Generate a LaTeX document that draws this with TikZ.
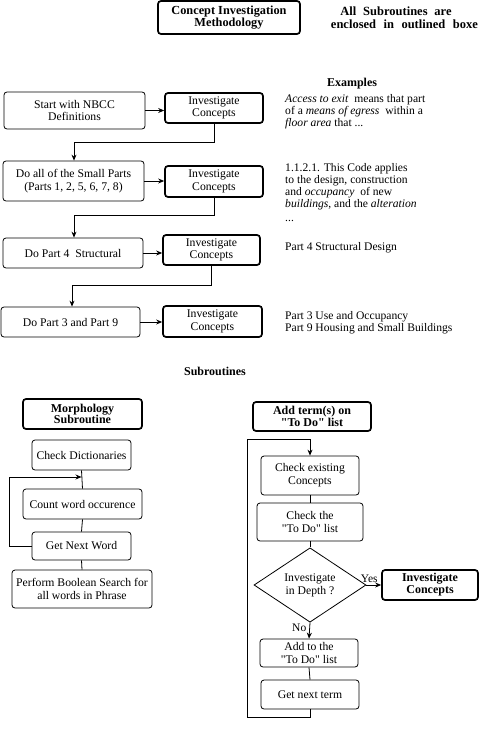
\documentclass[tikz,border=0pt]{standalone}
\usepackage{fontspec}
\setmainfont{Liberation Serif}
\usetikzlibrary{arrows.meta,shapes.geometric,calc}
\newcommand{\qq}{\textquotedbl}
\tikzset{
  box/.style={draw, rounded corners=3pt, line width=0.8pt, align=center, inner sep=1pt,
    font=\fontsize{11.7}{12.8}\selectfont},
  tbox/.style={draw, rounded corners=3pt, line width=1.7pt, align=center, inner sep=1pt,
    font=\fontsize{12}{11.8}\selectfont\bfseries},
  ibox/.style={draw, rounded corners=3pt, line width=1.7pt, align=center, inner sep=1pt,
    font=\fontsize{11.7}{12.5}\selectfont},
  conn/.style={line width=0.8pt},
  arr/.style={line width=0.8pt, -{Stealth[length=6pt,width=5pt]}},
  txt/.style={align=left, inner sep=0pt, font=\fontsize{11.6}{12}\selectfont},
  hdr/.style={inner sep=0pt, font=\fontsize{12}{13}\selectfont\bfseries}
}
\begin{document}
\begin{tikzpicture}[x=1pt,y=-1pt]
\useasboundingbox (0,0) rectangle (479,746);
% header
\node[tbox, font=\fontsize{12.3}{12}\selectfont\bfseries, minimum width=142pt, minimum height=33pt] (title) at (229,17.5) {Concept Investigation\\Methodology};
\node[hdr, font=\fontsize{12.5}{13}\selectfont\bfseries, anchor=center] (note1) at (396,11) {All\hspace{0.55em}Subroutines\hspace{0.55em}are};
\node[hdr, font=\fontsize{12.5}{13}\selectfont\bfseries, anchor=east] (note2) at (478,24) {enclosed\hspace{0.6em}in\hspace{0.6em}outlined\hspace{0.6em}boxe};
\node[hdr] (examples) at (352,84) {Examples};
% main flow
\node[box, minimum width=141pt, minimum height=37pt] (start) at (74.5,110.5) {Start with NBCC\\Definitions};
\node[ibox, minimum width=98pt, minimum height=30pt] (inv1) at (214,108) {Investigate\\Concepts};
\node[box, minimum width=141pt, minimum height=40pt] (small) at (73.5,181) {Do all of the Small Parts\\(Parts 1, 2, 5, 6, 7, 8)};
\node[ibox, minimum width=98pt, minimum height=31pt] (inv2) at (214,181.5) {Investigate\\Concepts};
\node[box, minimum width=140pt, minimum height=30pt] (struct) at (73,253) {Do Part 4\ \ Structural};
\node[ibox, minimum width=97pt, minimum height=30pt] (inv3) at (211.5,250) {Investigate\\Concepts};
\node[box, minimum width=139pt, minimum height=30pt] (p39) at (70.5,322) {Do Part 3 and Part 9};
\node[ibox, minimum width=99pt, minimum height=31pt] (inv4) at (212.5,321.5) {Investigate\\Concepts};

\draw[arr] (start.east) -- (start.east -| inv1.west);
\draw[arr] (small.east) -- (small.east -| inv2.west);
\draw[arr] (struct.east) -- (struct.east -| inv3.west);
\draw[arr] (p39.east) -- (p39.east -| inv4.west);

\coordinate (c1) at (74,142);
\coordinate (c2) at (74,215);
\coordinate (c3) at (72,285);
\draw[arr] (inv1.south) |- (c1) -- (c1 |- small.north);
\draw[arr] (inv2.south) |- (c2) -- (c2 |- struct.north);
\draw[arr] (inv3.south) |- (c3) -- (c3 |- p39.north);

% examples
\node[txt, anchor=north west] (ex1) at (285,94) {\textit{Access to exit}\ \ means that part\\of a \textit{means of egress}\ \ within a\\\textit{floor area} that ...};
\node[txt, anchor=north west] (ex2) at (285,163) {1.1.2.1. This Code applies\\to the design, construction\\and \textit{occupancy}\ \ of new\\\textit{buildings}, and the \textit{alteration}\\[2pt]...};
\node[txt, anchor=west] (ex3) at (285,248) {Part 4 Structural Design};
\node[txt, anchor=north west] (ex4) at (285,311) {Part 3 Use and Occupancy\\Part 9 Housing and Small Buildings};

\node[hdr] (subr) at (215,371) {Subroutines};

% morphology subroutine
\node[tbox, minimum width=119pt, minimum height=30pt] (morph) at (82.5,414) {Morphology\\Subroutine};
\node[box, minimum width=99pt, minimum height=30pt] (dict) at (81.5,455) {Check Dictionaries};
\node[box, minimum width=119pt, minimum height=30pt] (count) at (82.5,504) {Count word occurence};
\node[box, minimum width=99pt, minimum height=28pt] (getword) at (81.5,546) {Get Next Word};
\node[box, minimum width=140pt, minimum height=38pt] (bool) at (82,589) {Perform Boolean Search for\\all words in Phrase};
\draw[conn] (dict.south) -- (count.north);
\draw[conn] (count.south) -- (getword.north);
\draw[conn] (getword.south) -- (bool.north);
\coordinate (m1) at (9,546);
\coordinate (m2) at (9,477);
\coordinate (m3) at (81.5,477);
\draw[arr] (getword.west) -- (m1) -- (m2) -- (m3);

% add term subroutine
\node[tbox, minimum width=118pt, minimum height=29pt] (addterm) at (312,416.5) {Add term(s) on\\\qq To Do\qq{} list};
\node[box, minimum width=98pt, minimum height=39pt] (checkex) at (310,475.5) {Check existing\\Concepts};
\node[box, minimum width=106pt, minimum height=38pt] (checktodo) at (310,522) {Check the\\\qq To Do\qq{} list};
\node[draw, diamond, line width=0.8pt, minimum width=112pt, minimum height=72pt, inner sep=0pt, align=center,
  font=\fontsize{11.7}{12.8}\selectfont] (depth) at (310,585) {Investigate\\in Depth ?};
\node[tbox, minimum width=96pt, minimum height=30pt] (invc) at (430,585) {Investigate\\Concepts};
\node[box, minimum width=98pt, minimum height=28pt] (addtodo) at (309,653) {Add to the\\\qq To Do\qq{} list};
\node[box, minimum width=98pt, minimum height=29pt] (getterm) at (310,694.5) {Get next term};
\draw[conn] (checkex.south) -- (checktodo.north);
\draw[conn] (checktodo.south) -- (depth.north);
\draw[arr] (depth.east) -- node[above, font=\fontsize{11.5}{12}\selectfont, inner sep=2pt, pos=0.2] (yes) {Yes} (invc.west);
\draw[arr] (depth.south) -- node[left, font=\fontsize{11.5}{12}\selectfont, inner sep=3pt, pos=0.3] (no) {No} (addtodo.north);
\draw[conn] (addtodo.south) -- (getterm.north);
\coordinate (r1) at (310,717);
\coordinate (r2) at (247,717);
\coordinate (r3) at (247,439);
\coordinate (r4) at (310,439);
\draw[arr] (getterm.south) -- (r1) -- (r2) -- (r3) -- (r4) -- (checkex.north);
\end{tikzpicture}
\end{document}
